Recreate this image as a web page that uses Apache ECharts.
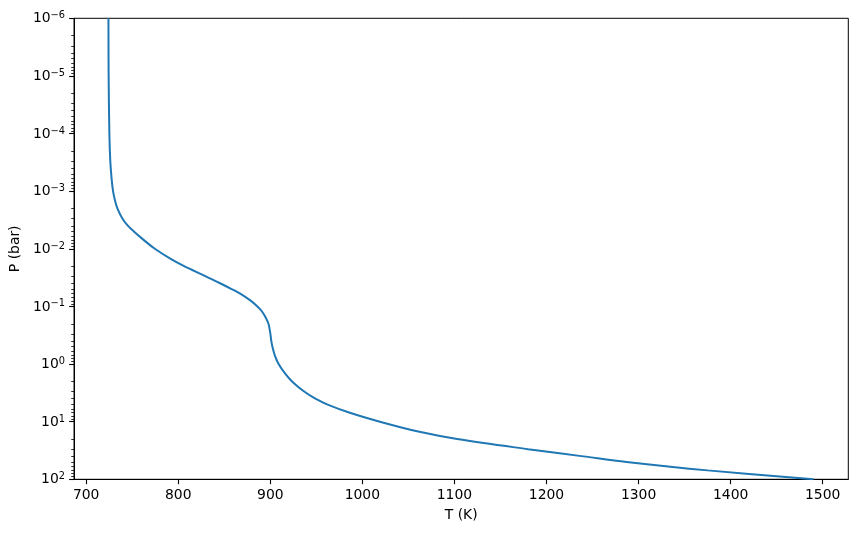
<!DOCTYPE html>
<html>
<head>
<meta charset="utf-8">
<script src="https://cdn.jsdelivr.net/npm/echarts@6/dist/echarts.min.js"></script>
<style>
html,body{margin:0;padding:0;background:#fff;}
#chart{width:857px;height:533px;}
</style>
</head>
<body>
<div id="chart"></div>
<script>
// Pressure (bar) and temperature (K) of the profile
const pressure = [1e-6, 1e-5, 1e-4, 3e-4, 6e-4, 1e-3, 1.5e-3, 2e-3, 3e-3, 4e-3, 5e-3, 7e-3,
  0.01, 0.015, 0.02, 0.03, 0.04, 0.05, 0.06, 0.08, 0.1, 0.12, 0.15, 0.2, 0.25, 0.3, 0.4, 0.5, 0.7,
  1, 1.5, 2, 3, 4, 5, 7, 10, 15, 20, 30, 40, 50, 70, 100];
const temperature = [724.2, 724.4, 725.2, 726.2, 727.6, 729.2, 731.5, 734, 739.5, 745.5, 751.8, 762.4,
  774.6, 791.8, 806.4, 830, 846, 858, 867.3, 879, 886, 890.6, 894.4, 898, 899.3, 900.1, 901.1, 902.3, 904.8,
  909, 916.6, 923.6, 936.8, 949, 961.6, 986.4, 1019, 1062, 1103, 1180, 1240, 1287, 1375, 1490];
// Tick values
const xTicks = [700, 800, 900, 1000, 1100, 1200, 1300, 1400, 1500];
const yMajorTicks = [1e-6, 1e-5, 1e-4, 1e-3, 1e-2, 1e-1, 1, 10, 100];
const yMinorTicks = [];
for (let e = -6; e < 2; e++) {
  for (let m = 2; m <= 9; m++) yMinorTicks.push(m * Math.pow(10, e));
}

const FONT = 'DejaVu Sans';
const FS = 13.9;
const chart = echarts.init(document.getElementById('chart'), null, {renderer: 'canvas'});
const supText = v => {
  const e = Math.round(Math.log10(v));
  return '{b|10}{s|' + (e < 0 ? '\u2212' + (-e) : e) + '}';
};
chart.setOption({
  animation: false,
  backgroundColor: '#fff',
  grid: {left: 73.3, right: 8.7, top: 18.3, bottom: 53.7, show: true, borderColor: '#000', borderWidth: 1, containLabel: false},
  xAxis: {
    type: 'value', min: 686.8, max: 1527.8,
    name: 'T (K)', nameLocation: 'middle', nameGap: 29,
    nameTextStyle: {fontFamily: FONT, fontSize: FS, color: '#000'},
    axisLine: {show: true, onZero: false, lineStyle: {color: '#000', width: 1}},
    axisTick: {show: true, length: 4.9, lineStyle: {color: '#000', width: 1.1}, customValues: xTicks},
    axisLabel: {show: true, margin: 9, fontFamily: FONT, fontSize: FS, color: '#000', customValues: xTicks,
      formatter: v => String(Math.round(v))},
    splitLine: {show: false}
  },
  yAxis: [{
    type: 'log', inverse: true, min: 1e-6, max: 100, position: 'left',
    name: 'P (bar)', nameLocation: 'middle', nameGap: 52,
    nameTextStyle: {fontFamily: FONT, fontSize: FS, color: '#000'},
    axisLine: {show: true, onZero: false, lineStyle: {color: '#000', width: 1}},
    axisTick: {show: true, length: 4.9, lineStyle: {color: '#000', width: 1.1}, customValues: yMajorTicks},
    axisLabel: {show: true, margin: 9, fontFamily: FONT, color: '#000', customValues: yMajorTicks,
      formatter: supText,
      rich: {
        b: {fontFamily: FONT, fontSize: FS, color: '#000', lineHeight: 15, verticalAlign: 'bottom'},
        s: {fontFamily: FONT, fontSize: 9.8, color: '#000', lineHeight: 11, verticalAlign: 'top', padding: [0, 0, 8, 0]}
      }},
    splitLine: {show: false}
  }, {
    type: 'log', inverse: true, min: 1e-6, max: 100, position: 'left', offset: 0,
    axisLine: {show: false},
    axisTick: {show: true, length: 2.8, lineStyle: {color: '#000', width: 0.8}, customValues: yMinorTicks},
    axisLabel: {show: false},
    splitLine: {show: false}
  }],
  series: [{
    type: 'line',
    xAxisIndex: 0, yAxisIndex: 0,
    data: pressure.map((p, i) => [temperature[i], p]),
    showSymbol: false,
    smooth: 0.35,
    clip: true,
    lineStyle: {color: '#1f77b4', width: 2},
    itemStyle: {color: '#1f77b4'}
  }]
});
</script>
</body>
</html>
